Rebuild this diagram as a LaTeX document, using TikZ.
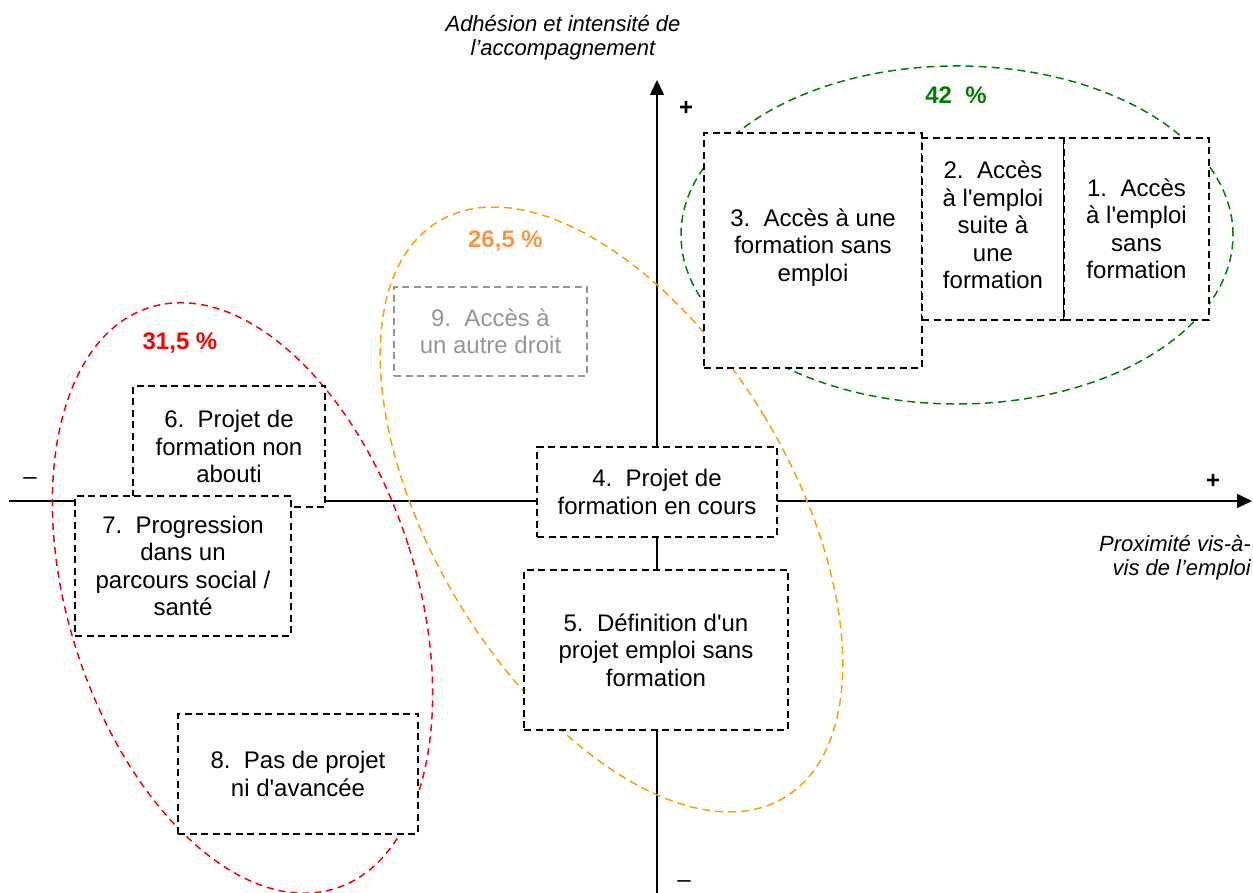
\documentclass[tikz,border=0pt]{standalone}
\usepackage{fontspec}
\newfontfamily\arialf{Liberation Sans}
\usetikzlibrary{arrows.meta}
\definecolor{elgreen}{RGB}{0,128,0}
\definecolor{elred}{RGB}{255,0,0}
\definecolor{elorange}{RGB}{255,160,0}
\definecolor{txtorange}{RGB}{247,150,70}
\definecolor{boxgray}{RGB}{150,150,150}
\newcommand\nsp{\hspace{0.556em}}
\begin{document}
\begin{tikzpicture}[x=1pt,y=1pt,
  every node/.style={font=\arialf\fontsize{24}{27.5}\selectfont},
  box/.style={draw=black, line width=1.8pt, dash pattern=on 7pt off 4.5pt, fill=white, align=center, inner sep=0pt},
  graybox/.style={box, draw=boxgray, text=boxgray},
  axisline/.style={line width=1.5pt, -{Triangle[length=15pt,width=14pt]}},
  ell/.style={line width=1.5pt, dash pattern=on 8pt off 5pt},
  pct/.style={font=\arialf\bfseries\fontsize{24}{27.5}\selectfont},
  axlabel/.style={font=\arialf\itshape\fontsize{22}{24}\selectfont},
  signlab/.style={inner sep=0pt}
]
\useasboundingbox (0,0) rectangle (1253,893);

% axes
\coordinate (xL) at (9,392);
\coordinate (xR) at (1252,392);
\coordinate (yB) at (657,0);
\coordinate (yT) at (657,813);
\draw[axisline] (xL) -- (xR);
\draw[axisline] (yB) -- (yT);

% ellipses
\draw[ell, elred, dash pattern=on 7pt off 5pt, shift={(242.5,295)}, rotate=17.8] (0,0) ellipse [x radius=174, y radius=305];
\draw[ell, elorange, shift={(611.5,383.5)}, rotate=31] (0,0) ellipse [x radius=179, y radius=336];
\draw[ell, elgreen] (957,658) ellipse [x radius=276, y radius=169];

% boxes
\node[box, minimum width=218, minimum height=235, text depth=11pt] (b3) at (813,642.5) {3.\nsp Accès à une\\formation sans\\emploi};
\node[box, minimum width=142, minimum height=182, text depth=8pt] (b2) at (993,664) {2.\nsp Accès\\à l'emploi\\suite à\\une\\formation};
\node[box, minimum width=145, minimum height=182] (b1) at (1136.5,664) {1.\nsp Accès\\à l'emploi\\sans\\formation};
\node[box, minimum width=240, minimum height=90] (b4) at (657,401) {4.\nsp Projet de\\formation en cours};
\node[box, minimum width=264, minimum height=160] (b5) at (656,243) {5.\nsp Définition d'un\\projet emploi sans\\formation};
\node[box, minimum width=192, minimum height=121] (b6) at (229,446.5) {6.\nsp Projet de\\formation non\\abouti};
\node[box, minimum width=216, minimum height=140] (b7) at (183,327) {7.\nsp Progression\\dans un\\parcours social /\\santé};
\node[box, minimum width=240, minimum height=120] (b8) at (298,119) {8.\nsp Pas de projet\\ni d'avancée};
\node[graybox, minimum width=193, minimum height=89] (b9) at (490.5,561.5) {9.\nsp Accès à\\un autre droit};

% percentages
\node[pct, text=elgreen] (p42) at (956,798) {42~~\%};
\node[pct, text=txtorange] (p265) at (505.5,652) {26,5 \%};
\node[pct, text=elred] (p315) at (180,550) {31,5 \%};

% signs
\node[signlab, font=\arialf\bfseries\fontsize{24}{27.5}\selectfont] (plusY) at (686,785) {+};
\node[signlab, font=\arialf\bfseries\fontsize{24}{27.5}\selectfont] (plusX) at (1213,412) {+};
\node[signlab, anchor=base] (minusX) at (30,408) {–};
\node[signlab, anchor=base] (minusY) at (684,5) {–};

% axis labels
\node[axlabel, align=center] (ylab) at (563,855.5) {Adhésion et intensité de\\l’accompagnement};
\node[axlabel, align=right, anchor=east, inner sep=0pt] (xlab) at (1251,335) {Proximité vis-à-\\vis de l’emploi};
\end{tikzpicture}
\end{document}
